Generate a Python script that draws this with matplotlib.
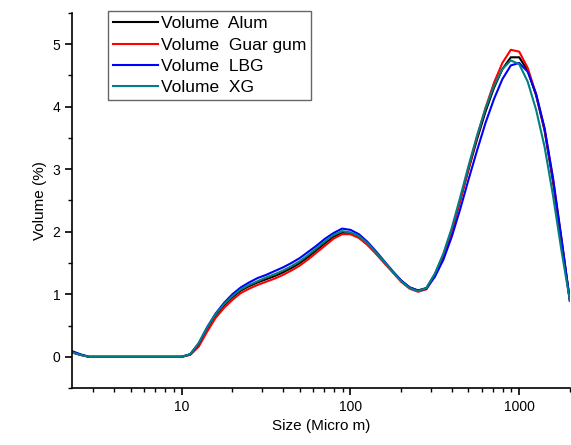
import matplotlib
matplotlib.use("Agg")
import matplotlib.pyplot as plt
from matplotlib.ticker import LogLocator, MultipleLocator, NullFormatter

plt.rcParams["font.family"] = ["Liberation Sans", "DejaVu Sans"]

# particle size classes (micro m)
size = [2.244, 2.518, 2.825, 3.170, 3.557, 3.991, 4.477, 5.024, 5.637, 6.325,
        7.096, 7.962, 8.934, 10.02, 11.25, 12.62, 14.16, 15.89, 17.83, 20.0,
        22.44, 25.18, 28.25, 31.70, 35.57, 39.91, 44.77, 50.24, 56.37, 63.25,
        70.96, 79.62, 89.34, 100.2, 112.5, 126.2, 141.6, 158.9, 178.3, 200.0,
        224.4, 251.8, 282.5, 317.0, 355.7, 399.1, 447.7, 502.4, 563.7, 632.5,
        709.6, 796.2, 893.4, 1002, 1125, 1262, 1416, 1589, 1783, 2000]

zeros = [0.0] * 11

alum = [0.07, 0.03] + zeros + [0.0,
        0.04, 0.20, 0.45, 0.66, 0.82, 0.95,
        1.06, 1.13, 1.19, 1.24, 1.29, 1.35,
        1.42, 1.50, 1.60, 1.71, 1.82, 1.92,
        1.98, 1.97, 1.91, 1.80, 1.66, 1.51,
        1.36, 1.22, 1.11, 1.06, 1.10, 1.32,
        1.62, 2.02, 2.50, 3.00, 3.48, 3.92,
        4.30, 4.60, 4.79, 4.79, 4.58, 4.18,
        3.62, 2.80, 1.85, 0.90]

guar = [0.07, 0.03] + zeros + [0.0,
        0.03, 0.16, 0.40, 0.62, 0.78, 0.91,
        1.02, 1.09, 1.15, 1.20, 1.25, 1.31,
        1.38, 1.46, 1.56, 1.67, 1.78, 1.89,
        1.96, 1.96, 1.90, 1.79, 1.65, 1.50,
        1.35, 1.20, 1.09, 1.04, 1.08, 1.30,
        1.60, 2.00, 2.50, 3.02, 3.52, 3.98,
        4.38, 4.70, 4.91, 4.88, 4.62, 4.20,
        3.64, 2.84, 1.88, 0.90]

lbg = [0.09, 0.04] + zeros + [0.0,
       0.04, 0.21, 0.47, 0.69, 0.86, 1.00,
       1.11, 1.19, 1.26, 1.31, 1.37, 1.43,
       1.50, 1.58, 1.68, 1.78, 1.89, 1.98,
       2.05, 2.03, 1.96, 1.84, 1.69, 1.53,
       1.37, 1.22, 1.11, 1.06, 1.09, 1.28,
       1.55, 1.92, 2.36, 2.84, 3.30, 3.74,
       4.12, 4.44, 4.66, 4.70, 4.56, 4.20,
       3.66, 2.86, 1.90, 0.90]

xg = [0.07, 0.03] + zeros + [0.0,
      0.04, 0.22, 0.47, 0.68, 0.84, 0.97,
      1.08, 1.15, 1.21, 1.27, 1.32, 1.38,
      1.45, 1.53, 1.63, 1.74, 1.85, 1.95,
      2.01, 1.99, 1.93, 1.82, 1.67, 1.52,
      1.36, 1.21, 1.10, 1.05, 1.10, 1.33,
      1.65, 2.06, 2.55, 3.06, 3.54, 3.97,
      4.33, 4.60, 4.74, 4.68, 4.40, 3.95,
      3.36, 2.58, 1.70, 0.90]

labels = ["Volume  Alum", "Volume  Guar gum", "Volume  LBG", "Volume  XG"]
colors = ["black", "red", "blue", "#008080"]

fig = plt.figure(figsize=(5.71, 4.45), dpi=100)
ax = fig.add_axes([0.126, 0.128, 0.872, 0.843])

for y, lab, c in zip([alum, guar, lbg, xg], labels, colors):
    ax.plot(size, y, color=c, lw=1.5, label=lab)

ax.set_xscale("log")
ax.set_xlim(2.24, 2000)
ax.set_ylim(-0.5, 5.5)
ax.xaxis.set_minor_locator(LogLocator(base=10, subs=range(2, 10), numticks=20))
ax.xaxis.set_minor_formatter(NullFormatter())
ax.set_xticks([10, 100, 1000])
ax.set_xticklabels(["10", "100", "1000"])
ax.yaxis.set_major_locator(MultipleLocator(1))
ax.yaxis.set_minor_locator(MultipleLocator(0.5))

for side in ["top", "right"]:
    ax.spines[side].set_visible(False)
for side in ["left", "bottom"]:
    ax.spines[side].set_linewidth(1.2)
ax.tick_params(which="major", direction="out", length=5, width=1.2, labelsize=10)
ax.tick_params(which="minor", direction="out", length=3, width=1.0)

ax.set_xlabel("Size (Micro m)", fontsize=11)
ax.set_ylabel("Volume (%)", fontsize=11)

leg = ax.legend(loc="upper left", bbox_to_anchor=(0.072, 1.005), borderaxespad=0,
                fontsize=12.5, frameon=True, fancybox=False, handlelength=2.6,
                handletextpad=0.15, borderpad=0.3, labelspacing=0.35)
leg.get_frame().set_edgecolor("#404040")
leg.get_frame().set_linewidth(1.0)
for line in leg.get_lines():
    line.set_linewidth(1.5)

fig.savefig("out.png", dpi=100)
